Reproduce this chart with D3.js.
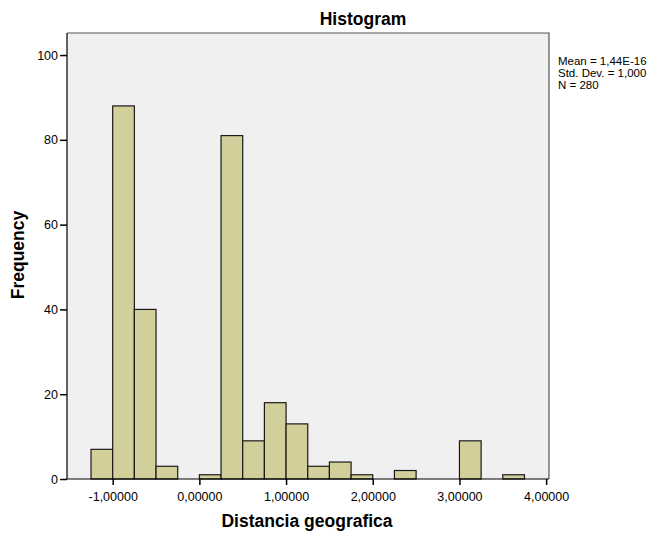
<!DOCTYPE html>
<html>
<head>
<meta charset="utf-8">
<style>
    body { margin: 0; background: #ffffff; }
    text { font-family: "Liberation Sans", Arial, sans-serif; }
</style>
</head>
<body>
<svg id="chart" width="659" height="533"></svg>
<script src="https://cdn.jsdelivr.net/npm/d3@7"></script>
<script>
    // bin edges (lower bound of each bin, width 0.25) and frequencies
    let binStarts = [-1.25, -1.0, -0.75, -0.5, -0.25, 0.0, 0.25, 0.5, 0.75, 1.0,
                     1.25, 1.5, 1.75, 2.0, 2.25, 2.5, 2.75, 3.0, 3.25, 3.5]
    let counts = [7, 88, 40, 3, 0, 1, 81, 9, 18, 13,
                  3, 4, 1, 0, 2, 0, 0, 9, 0, 1]
    let binWidth = 0.25
    let xTicks = [-1, 0, 1, 2, 3, 4]
    let yTicks = [0, 20, 40, 60, 80, 100]
    let statsLines = ["Mean = 1,44E-16", "Std. Dev. = 1,000", "N = 280"]

    let svg = d3.select("#chart")
    let pLeft = 67, pRight = 549, pTop = 33, pBottom = 479

    let x = d3.scaleLinear().domain([-1.527, 4.033]).range([pLeft, pRight])
    let y = d3.scaleLinear().domain([0, 105.2]).range([pBottom, pTop])

    let bins = binStarts.map((b, i) => ({x0: b, x1: b + binWidth, n: counts[i]}))

    svg.append("rect")
        .attr("x", pLeft).attr("y", pTop)
        .attr("width", pRight - pLeft).attr("height", pBottom - pTop)
        .attr("fill", "#f0f0f0")

    svg.append("g").selectAll("rect")
        .data(bins.filter(d => d.n > 0))
        .enter().append("rect")
        .attr("x", d => x(d.x0))
        .attr("y", d => y(d.n))
        .attr("width", d => x(d.x1) - x(d.x0))
        .attr("height", d => y(0) - y(d.n))
        .attr("fill", "#d3cf9a")
        .attr("stroke", "#1a1a1a")
        .attr("stroke-width", 1.2)

    // frame: top & right grey, left & bottom black
    svg.append("path")
        .attr("d", `M${pLeft},${pTop}H${pRight}V${pBottom}`)
        .attr("fill", "none").attr("stroke", "#555").attr("stroke-width", 1.2)
    svg.append("path")
        .attr("d", `M${pLeft},${pTop}V${pBottom}H${pRight}`)
        .attr("fill", "none").attr("stroke", "#000").attr("stroke-width", 1.2)

    let xAxis = d3.axisBottom(x).tickValues(xTicks).tickSize(6).tickSizeOuter(0)
        .tickFormat(d => d3.format(".5f")(d).replace(".", ",").replace("\u2212", "-"))
    let gx = svg.append("g").attr("transform", `translate(0,${pBottom})`).call(xAxis)
    gx.select(".domain").remove()
    gx.selectAll(".tick line").attr("stroke", "#000").attr("stroke-width", 1.5)
    gx.selectAll(".tick text").attr("font-size", 12.5).attr("fill", "#000")
        .attr("font-family", "Liberation Sans, Arial, sans-serif").attr("dy", "1.0em")

    let yAxis = d3.axisLeft(y).tickValues(yTicks).tickSize(7).tickSizeOuter(0)
    let gy = svg.append("g").attr("transform", `translate(${pLeft},0)`).call(yAxis)
    gy.select(".domain").remove()
    gy.selectAll(".tick line").attr("stroke", "#000").attr("stroke-width", 1.5)
    gy.selectAll(".tick text").attr("font-size", 12.5).attr("fill", "#000")
        .attr("font-family", "Liberation Sans, Arial, sans-serif").attr("x", -9)

    svg.append("text")
        .attr("x", 363).attr("y", 25)
        .attr("text-anchor", "middle")
        .attr("font-size", 17.5).attr("font-weight", "bold")
        .text("Histogram")

    svg.append("text")
        .attr("x", 307).attr("y", 527)
        .attr("text-anchor", "middle")
        .attr("font-size", 17.5).attr("font-weight", "bold")
        .text("Distancia geografica")

    svg.append("text")
        .attr("transform", "translate(24,255) rotate(-90)")
        .attr("text-anchor", "middle")
        .attr("font-size", 17.5).attr("font-weight", "bold")
        .text("Frequency")

    svg.append("g").selectAll("text")
        .data(statsLines)
        .enter().append("text")
        .attr("x", 558)
        .attr("y", (d, i) => 65 + i * 12)
        .attr("font-size", 11.5)
        .text(d => d)
</script>
</body>
</html>
